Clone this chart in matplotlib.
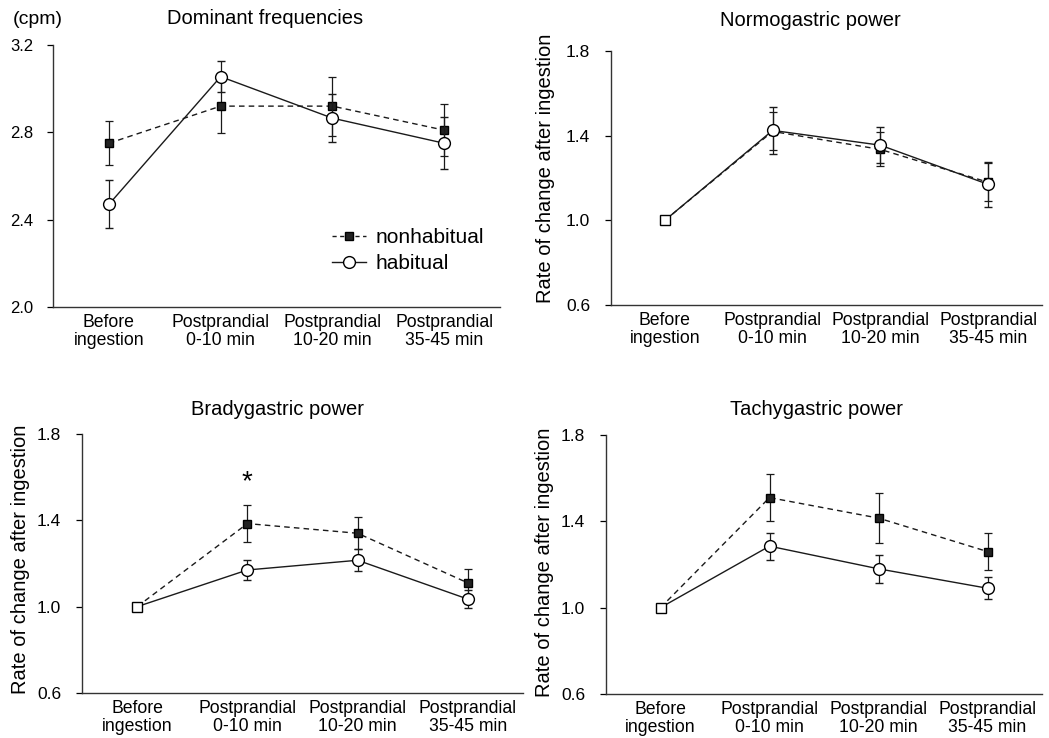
import matplotlib
matplotlib.use("Agg")
import matplotlib.pyplot as plt
from matplotlib.lines import Line2D

plt.rcParams['font.family'] = ['Liberation Sans', 'DejaVu Sans']

labels = ["Before\ningestion", "Postprandial\n0-10 min",
          "Postprandial\n10-20 min", "Postprandial\n35-45 min"]
x = [0, 1, 2, 3]

# dominant frequencies (cpm)
dom_non = [2.75, 2.92, 2.92, 2.81]
dom_non_err = [0.10, 0.125, 0.135, 0.12]
dom_hab = [2.47, 3.055, 2.865, 2.75]
dom_hab_err = [0.11, 0.072, 0.11, 0.118]

# normogastric power
norm_non = [1.0, 1.42, 1.335, 1.18]
norm_non_err = [0.0, 0.09, 0.08, 0.09]
norm_hab = [1.0, 1.425, 1.355, 1.17]
norm_hab_err = [0.0, 0.11, 0.085, 0.105]

# bradygastric power
brady_non = [1.0, 1.385, 1.34, 1.11]
brady_non_err = [0.0, 0.085, 0.075, 0.065]
brady_hab = [1.0, 1.17, 1.215, 1.035]
brady_hab_err = [0.0, 0.045, 0.05, 0.04]

# tachygastric power
tachy_non = [1.0, 1.51, 1.415, 1.26]
tachy_non_err = [0.0, 0.11, 0.115, 0.085]
tachy_hab = [1.0, 1.285, 1.18, 1.09]
tachy_hab_err = [0.0, 0.062, 0.065, 0.052]

W, H = 1049, 738
fig = plt.figure(figsize=(W / 100, H / 100), dpi=100)


def make_ax(l, r, t, b):
    return fig.add_axes([l / W, 1 - b / H, (r - l) / W, (b - t) / H])


LC = '#1a1a1a'


def draw(ax, non, non_err, hab, hab_err, baseline_square):
    start = 1 if baseline_square else 0
    ax.errorbar(x, non, yerr=non_err, color=LC, lw=1.0, ls=(0, (4, 3)),
                elinewidth=0.9, capsize=3, capthick=0.9, marker='s',
                ms=6, mfc='#222222', mec='black', markevery=slice(start, None),
                zorder=3)
    ax.errorbar(x, hab, yerr=hab_err, color=LC, lw=1.0, ls='-',
                elinewidth=0.9, capsize=3, capthick=0.9, marker='o',
                ms=8.5, mfc='white', mec='black', mew=1.0,
                markevery=slice(start, None), zorder=4)
    if baseline_square:
        ax.plot(x[0], hab[0], marker='s', ms=7, mfc='white', mec='black',
                mew=1.0, zorder=5)


def style(ax, ylim, yticks, ysize, ypad):
    ax.set_xlim(-0.5, 3.5)
    ax.set_ylim(*ylim)
    ax.set_yticks(yticks)
    ax.set_yticklabels([f"{v:.1f}" for v in yticks])
    ax.set_xticks(x)
    ax.set_xticklabels(labels, linespacing=1.05)
    ax.spines['top'].set_visible(False)
    ax.spines['right'].set_visible(False)
    for s in ('left', 'bottom'):
        ax.spines[s].set_linewidth(1.0)
        ax.spines[s].set_color('#333333')
    ax.tick_params(axis='x', length=0, pad=5, labelsize=12.7)
    ax.tick_params(axis='y', length=4, width=0.9, pad=ypad, labelsize=ysize)


ax1 = make_ax(53, 500, 45, 307)
ax2 = make_ax(611, 1042, 51, 305)
ax3 = make_ax(82, 523, 434, 693)
ax4 = make_ax(606, 1042, 435, 694)

draw(ax1, dom_non, dom_non_err, dom_hab, dom_hab_err, False)
style(ax1, (2.0, 3.2), [2.0, 2.4, 2.8, 3.2], 12, 10)

rate_ticks = [0.6, 1.0, 1.4, 1.8]
for ax, data in ((ax2, (norm_non, norm_non_err, norm_hab, norm_hab_err)),
                 (ax3, (brady_non, brady_non_err, brady_hab, brady_hab_err)),
                 (ax4, (tachy_non, tachy_non_err, tachy_hab, tachy_hab_err))):
    draw(ax, *data, True)
    style(ax, (0.6, 1.8), rate_ticks, 12.5, 11)

ylab = "Rate of change after ingestion"
ax2.set_ylabel(ylab, fontsize=14.5, va='center')
ax2.yaxis.set_label_coords(-0.153, 0.54)
ax3.set_ylabel(ylab, fontsize=14.5, va='center')
ax3.yaxis.set_label_coords(-0.14, 0.515)
ax4.set_ylabel(ylab, fontsize=14.5, va='center')
ax4.yaxis.set_label_coords(-0.14, 0.51)

ax1.text(0.474, 1.103, "Dominant frequencies", transform=ax1.transAxes,
         ha='center', va='center', fontsize=14.5)
ax2.text(0.462, 1.121, "Normogastric power", transform=ax2.transAxes,
         ha='center', va='center', fontsize=14.5)
ax3.text(0.444, 1.094, "Bradygastric power", transform=ax3.transAxes,
         ha='center', va='center', fontsize=14.5)
ax4.text(0.482, 1.097, "Tachygastric power", transform=ax4.transAxes,
         ha='center', va='center', fontsize=14.5)

fig.text(13 / W, 1 - 19 / H, "(cpm)", ha='left', va='center', fontsize=14)

# significance mark
ax3.text(x[1], 1.575, "*", ha='center', va='center', fontsize=20)

handles = [
    Line2D([], [], color=LC, lw=1.0, ls=(0, (3, 2.5)), marker='s', ms=6,
           mfc='#222222', mec='black'),
    Line2D([], [], color=LC, lw=1.0, ls='-', marker='o', ms=8.5,
           mfc='white', mec='black'),
]
ax1.legend(handles, ["nonhabitual", "habitual"], loc='center left',
           bbox_to_anchor=(0.625, 0.215), frameon=False, fontsize=15,
           handlelength=1.6, handletextpad=0.45, labelspacing=0.35,
           borderpad=0, borderaxespad=0)

fig.savefig("out.png", dpi=100)
